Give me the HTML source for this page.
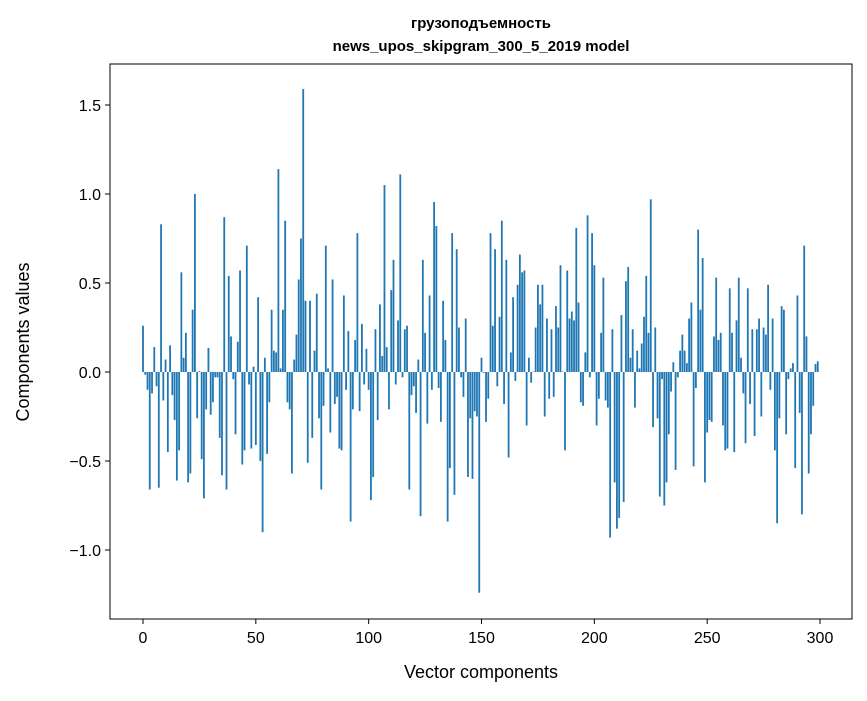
<!DOCTYPE html>
<html><head><meta charset="utf-8"><style>
html,body{margin:0;padding:0;background:#fff}
svg text{font-family:"Liberation Sans","DejaVu Sans",sans-serif;fill:#000}
</style></head><body>
<svg id="s" width="867" height="696" xmlns="http://www.w3.org/2000/svg">
<rect width="867" height="696" fill="#fff"/>
<g id="bars"></g>
<rect x="110" y="64" width="742" height="555" fill="none" stroke="#000" stroke-width="1"/>
<g id="ticks" stroke="#000" stroke-width="1"></g>
<g id="labels" font-size="16"></g>
<text x="481" y="28" font-size="15" font-weight="bold" text-anchor="middle">грузоподъемность</text>
<text x="481" y="51" font-size="15" font-weight="bold" text-anchor="middle">news_upos_skipgram_300_5_2019 model</text>
<text x="481" y="678" font-size="18" text-anchor="middle">Vector components</text>
<text x="29" y="342" font-size="18" text-anchor="middle" transform="rotate(-90 29 342)">Components values</text>
</svg>
<script>
var v=[0.26,-0.015,-0.1,-0.66,-0.12,0.14,-0.08,-0.65,0.83,-0.16,0.07,-0.45,0.15,-0.13,-0.27,-0.61,-0.44,0.56,0.08,0.22,-0.62,-0.57,0.35,1.0,-0.26,0.005,-0.49,-0.71,-0.21,0.135,-0.24,-0.17,-0.03,-0.03,-0.37,-0.58,0.87,-0.66,0.54,0.2,-0.04,-0.35,0.17,0.57,-0.52,-0.44,0.71,-0.07,-0.43,0.03,
-0.41,0.42,-0.5,-0.9,0.08,-0.46,-0.17,0.35,0.12,0.11,1.14,0.02,0.35,0.85,-0.17,-0.21,-0.57,0.07,0.21,0.52,0.75,1.59,0.4,-0.51,0.4,-0.37,0.12,0.44,-0.26,-0.66,-0.19,0.71,0.02,-0.34,0.52,-0.18,-0.14,-0.43,-0.44,0.43,-0.1,0.23,-0.84,-0.21,0.18,0.78,-0.22,0.27,-0.07,0.13,
-0.1,-0.72,-0.59,0.24,-0.27,0.38,0.09,1.05,0.14,-0.21,0.46,0.63,-0.07,0.29,1.11,-0.03,0.24,0.26,-0.66,-0.13,-0.08,-0.23,0.07,-0.81,0.63,0.22,-0.29,0.43,-0.1,0.955,0.82,-0.09,-0.28,0.4,0.18,-0.84,-0.54,0.78,-0.69,0.69,0.25,-0.03,-0.14,0.3,-0.59,-0.26,-0.6,-0.22,-0.25,-1.24,
0.08,-0.005,-0.28,-0.15,0.78,0.26,0.69,-0.08,0.31,0.85,-0.18,0.63,-0.48,0.11,0.42,-0.05,0.49,0.66,0.56,0.57,-0.3,0.08,-0.06,0.003,0.25,0.49,0.38,0.49,-0.25,0.3,-0.15,0.24,-0.14,0.37,0.25,0.6,0.003,-0.44,0.57,0.3,0.34,0.29,0.81,0.39,-0.17,-0.19,0.11,0.88,-0.03,0.78,
0.6,-0.3,-0.15,0.22,0.53,-0.16,-0.2,-0.93,0.24,-0.62,-0.88,-0.82,0.32,-0.73,0.51,0.59,0.08,0.24,-0.2,0.12,0.02,0.16,0.31,0.54,0.22,0.97,-0.31,0.25,-0.26,-0.7,-0.04,-0.75,-0.62,-0.35,-0.11,0.055,-0.55,-0.03,0.12,0.21,0.12,0.05,0.3,0.39,-0.53,-0.09,0.8,0.35,0.64,-0.62,
-0.34,-0.27,-0.28,0.2,0.53,0.18,0.22,-0.3,-0.44,-0.43,0.47,0.22,-0.45,0.29,0.53,0.08,-0.12,-0.4,0.47,-0.18,0.24,-0.36,0.24,0.3,-0.25,0.25,0.21,0.49,-0.1,0.3,-0.44,-0.85,-0.26,0.37,0.35,-0.35,-0.04,0.02,0.05,-0.54,0.43,-0.23,-0.8,0.71,0.2,-0.57,-0.35,-0.19,0.045,0.06];
var NS="http://www.w3.org/2000/svg";
function X(i){return 143+2.2567*i}
function Y(y){return 372-178*y}
var g=document.getElementById('bars');
for(var i=0;i<v.length;i++){var r=document.createElementNS(NS,'rect');var y0=Y(0),y1=Y(v[i]);
r.setAttribute('x',X(i)-0.9);r.setAttribute('width',1.8);r.setAttribute('y',Math.min(y0,y1));r.setAttribute('height',Math.abs(y1-y0));r.setAttribute('fill','#1f77b4');g.appendChild(r);}
var t=document.getElementById('ticks'),L=document.getElementById('labels');
function line(a,b,c,d){var l=document.createElementNS(NS,'line');l.setAttribute('x1',a);l.setAttribute('y1',b);l.setAttribute('x2',c);l.setAttribute('y2',d);t.appendChild(l);}
function txt(x,y,s,a){var e=document.createElementNS(NS,'text');e.setAttribute('x',x);e.setAttribute('y',y);e.setAttribute('text-anchor',a);e.textContent=s;L.appendChild(e);}
for(var k=0;k<=6;k++){var x=X(50*k);line(x,619,x,624);txt(x,643,String(50*k),'middle');}
var ys=[-1.0,-0.5,0.0,0.5,1.0,1.5];
for(var j=0;j<ys.length;j++){var y=Y(ys[j]);line(105,y,110,y);txt(101,y+6,(ys[j]<0?'\u2212':'')+Math.abs(ys[j]).toFixed(1),'end');}
</script>
</body></html>
